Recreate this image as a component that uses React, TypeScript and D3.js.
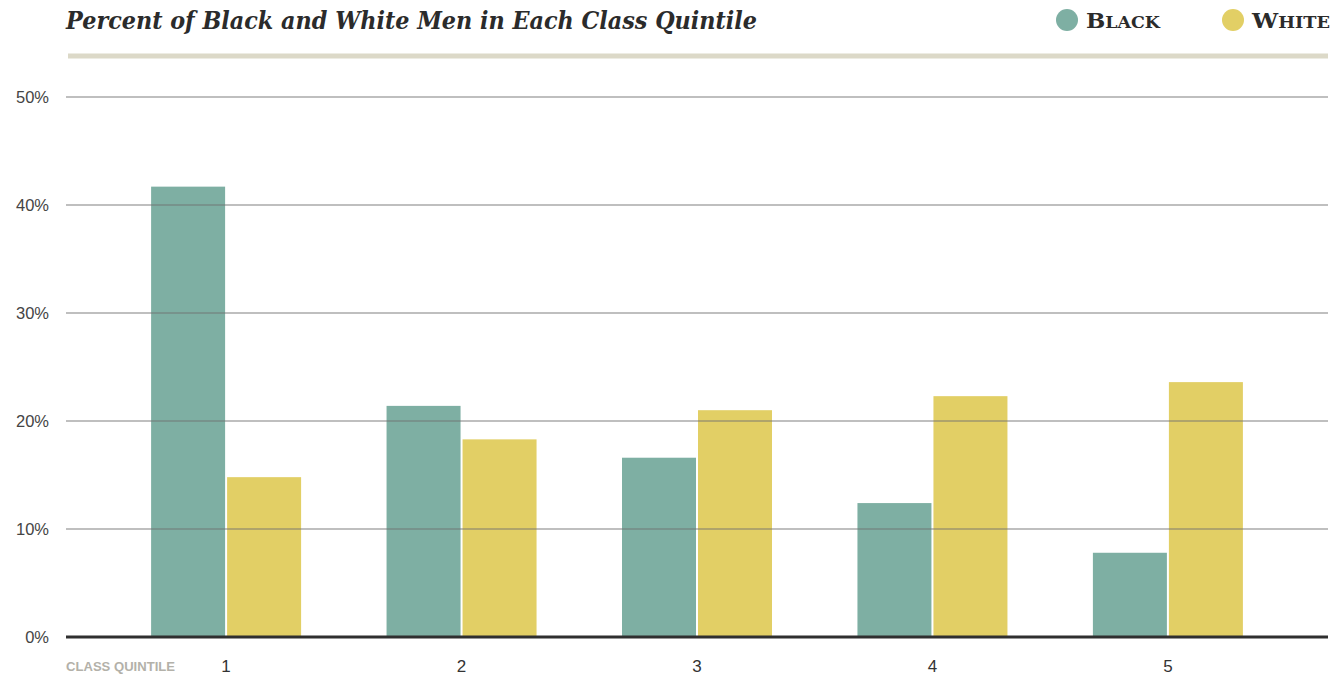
import React from "react";
import * as d3 from "d3";

const quintiles = ["1", "2", "3", "4", "5"];
const series = ["Black", "White"];
const blackValues = [41.7, 21.4, 16.6, 12.4, 7.8];
const whiteValues = [14.8, 18.3, 21.0, 22.3, 23.6];
const yTicks = [0, 10, 20, 30, 40, 50];
const title = "Percent of Black and White Men in Each Class Quintile";
const xAxisLabel = "CLASS QUINTILE";

const colors: Record<string, string> = { Black: "#7eafa3", White: "#e2cf65" };

export default function App() {
  const W = 1337;
  const H = 677;
  const left = 66;
  const right = 1328;
  const y = d3.scaleLinear().domain([0, 50]).range([637, 97]);
  const x = d3.scalePoint<string>().domain(quintiles).range([left, right]).padding(0.68);
  const inner = d3.scaleBand<string>().domain(series).range([-75, 75]).paddingInner(0.0263);
  const valuesBy: Record<string, number[]> = { Black: blackValues, White: whiteValues };

  return (
    <svg width={W} height={H} style={{ position: "absolute", left: 0, top: 0, background: "#fff" }}>
      <text
        x={66}
        y={29}
        fontFamily="'DejaVu Serif', Georgia, serif"
        fontWeight="bold"
        fontStyle="italic"
        fontSize={24.5}
        fill="#2b2b2b"
        textLength={691}
        lengthAdjust="spacingAndGlyphs"
      >
        {title}
      </text>
      {/* legend */}
      {series.map((s, i) => {
        const cx = i === 0 ? 1067 : 1233;
        const tx = cx + 19;
        const rest = s.slice(1).toUpperCase();
        return (
          <g key={s}>
            <circle cx={cx} cy={20} r={11} fill={colors[s]} />
            <text
              x={tx}
              y={28}
              fontFamily="'DejaVu Serif', Georgia, serif"
              fontWeight="bold"
              fill="#2b2b2b"
              textLength={i === 0 ? 74 : 78}
              lengthAdjust="spacingAndGlyphs"
            >
              <tspan fontSize={21}>{s[0]}</tspan>
              <tspan fontSize={16}>{rest}</tspan>
            </text>
          </g>
        );
      })}
      <line x1={68} x2={1328} y1={56} y2={56} stroke="#dcd9c8" strokeWidth={5} />

      {/* bars */}
      {quintiles.map((q, qi) => (
        <g key={q} transform={`translate(${x(q)},0)`}>
          {series.map((s) => {
            const v = valuesBy[s][qi];
            return (
              <rect
                key={s}
                x={inner(s)!}
                width={inner.bandwidth()}
                y={y(v)}
                height={y(0) - y(v)}
                fill={colors[s]}
              />
            );
          })}
        </g>
      ))}

      {/* gridlines over bars */}
      {yTicks.filter((t) => t > 0).map((t) => (
        <line
          key={t}
          x1={left}
          x2={right}
          y1={y(t)}
          y2={y(t)}
          stroke="#6f6f6f"
          strokeOpacity={0.6}
          strokeWidth={1.3}
        />
      ))}
      {yTicks.map((t) => (
        <text
          key={"l" + t}
          x={49}
          y={y(t) + 6}
          textAnchor="end"
          fontFamily="'Liberation Sans', Arial, sans-serif"
          fontSize={16.5}
          fill="#444"
        >
          {t}%
        </text>
      ))}
      <line x1={left} x2={right} y1={y(0)} y2={y(0)} stroke="#2f2f2f" strokeWidth={3} />

      {quintiles.map((q) => (
        <text
          key={"x" + q}
          x={x(q)}
          y={672}
          textAnchor="middle"
          fontFamily="'Liberation Sans', Arial, sans-serif"
          fontSize={17}
          fill="#333"
        >
          {q}
        </text>
      ))}
      <text
        x={66}
        y={671}
        fontFamily="'Liberation Sans Narrow', 'Liberation Sans', Arial, sans-serif"
        fontSize={13}
        fontWeight="bold"
        fill="#b3b1a9"
        textLength={109}
        lengthAdjust="spacingAndGlyphs"
      >
        {xAxisLabel}
      </text>
    </svg>
  );
}
